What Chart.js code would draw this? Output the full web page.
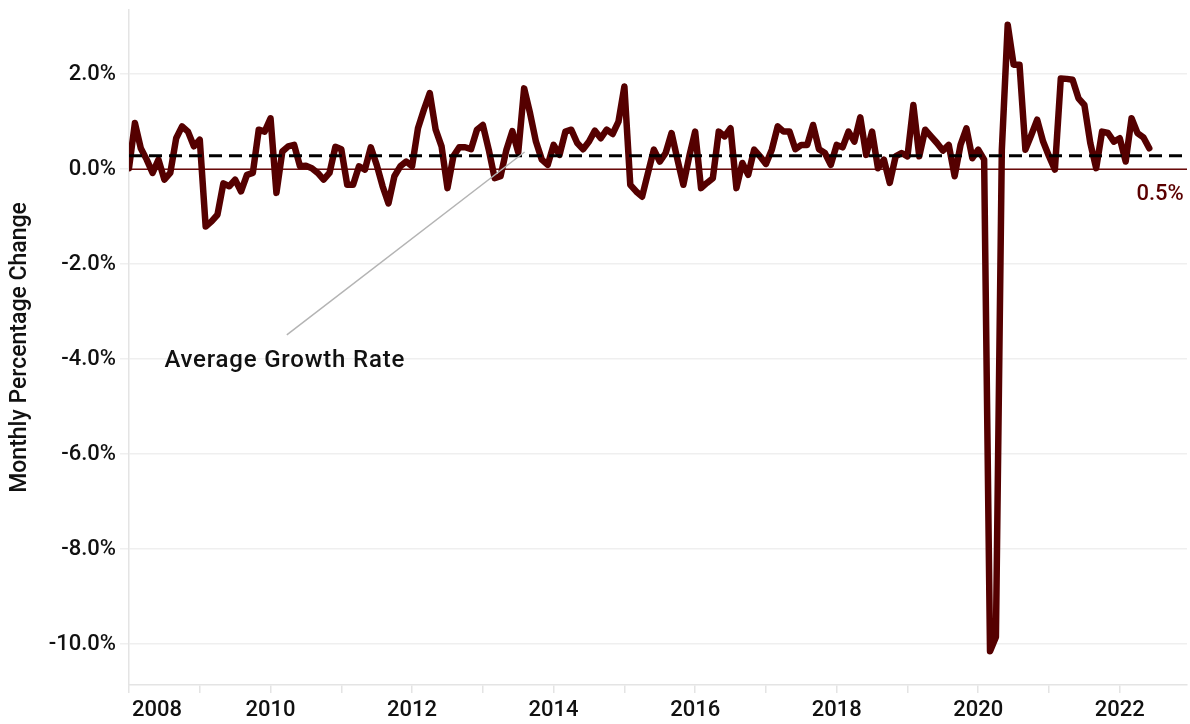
<!DOCTYPE html>
<html>
<head>
<meta charset="utf-8">
<script src="https://cdn.jsdelivr.net/npm/chart.js@4.4.1/dist/chart.umd.min.js"></script>
<style>
  html, body { margin: 0; padding: 0; background: #ffffff; }
  #c { display: block; }
</style>
</head>
<body>
<canvas id="c" width="1190" height="724"></canvas>
<script>
// ---- Data (monthly % change, starting January 2008) ----
const startYear = 2008;
const monthlyChange = [
  0.02, 0.97, 0.44, 0.20, -0.08, 0.20, -0.22, -0.08, 0.65, 0.90, 0.79, 0.48,
  0.62, -1.21, -1.10, -0.96, -0.30, -0.36, -0.22, -0.47, -0.12, -0.08, 0.83, 0.79,
  1.07, -0.50, 0.37, 0.48, 0.51, 0.06, 0.07, 0.02, -0.08, -0.22, -0.08, 0.47,
  0.42, -0.33, -0.33, 0.06, -0.01, 0.46, 0.09, -0.36, -0.72, -0.15, 0.06, 0.16,
  0.06, 0.86, 1.25, 1.60, 0.83, 0.48, -0.40, 0.27, 0.46, 0.46, 0.42, 0.83,
  0.93, 0.41, -0.19, -0.15, 0.41, 0.80, 0.35, 1.70, 1.18, 0.58, 0.20, 0.09,
  0.51, 0.30, 0.79, 0.83, 0.55, 0.42, 0.58, 0.81, 0.65, 0.83, 0.74, 1.00,
  1.74, -0.33, -0.47, -0.58, -0.08, 0.41, 0.16, 0.34, 0.76, 0.20, -0.33, 0.27,
  0.79, -0.40, -0.29, -0.19, 0.79, 0.69, 0.86, -0.40, 0.13, -0.12, 0.41, 0.27,
  0.11, 0.41, 0.90, 0.79, 0.79, 0.42, 0.51, 0.51, 0.93, 0.42, 0.34, 0.09,
  0.51, 0.46, 0.79, 0.58, 1.09, 0.30, 0.79, 0.02, 0.20, -0.29, 0.27, 0.34,
  0.27, 1.35, 0.27, 0.83, 0.69, 0.55, 0.39, 0.51, -0.15, 0.51, 0.86, 0.23,
  0.41, 0.20, -10.15, -9.85, 0.40, 3.04, 2.20, 2.20, 0.41, 0.72, 1.04, 0.58,
  0.27, -0.01, 1.91, 1.90, 1.88, 1.49, 1.35, 0.55, 0.02, 0.79, 0.76, 0.58,
  0.65, 0.16, 1.07, 0.76, 0.67, 0.44
];
const averageGrowthRate = 0.28;
const xTickYears = [2008, 2009, 2010, 2011, 2012, 2013, 2014, 2015, 2016, 2017, 2018, 2019, 2020, 2021, 2022];
const xTickLabels = [2008, 2010, 2012, 2014, 2016, 2018, 2020, 2022];
const yTickValues = [-10, -8, -6, -4, -2, 0, 2];
const xMin = 2008, xMax = 2022.95;
const yMin = -10.86, yMax = 3.35;

// annotation anchors (data coordinates)
const annotationText = 'Average Growth Rate';
const annotationTextPos = { x: 2008.5, y: -4.16 };
const annotationLine = [{ x: 2010.23, y: -3.49 }, { x: 2013.59, y: 0.36 }];
const endLabelText = '0.5%';
const endLabelPos = { x: 2022.905, y: -0.66 };

const FONT = 'Roboto, "DejaVu Sans", sans-serif';

const seriesPoints = monthlyChange.map((v, i) => ({ x: startYear + i / 12, y: v }));

const labelsPlugin = {
  id: 'labelsPlugin',
  afterDraw(chart) {
    const ctx = chart.ctx;
    const xs = chart.scales.x, ys = chart.scales.y;
    ctx.save();
    // annotation line
    ctx.strokeStyle = '#b4b4b4';
    ctx.lineWidth = 1.5;
    ctx.beginPath();
    ctx.moveTo(xs.getPixelForValue(annotationLine[0].x), ys.getPixelForValue(annotationLine[0].y));
    ctx.lineTo(xs.getPixelForValue(annotationLine[1].x), ys.getPixelForValue(annotationLine[1].y));
    ctx.stroke();
    // annotation text
    ctx.font = '500 24px ' + FONT;
    ctx.fillStyle = '#111111';
    ctx.textAlign = 'left';
    ctx.textBaseline = 'alphabetic';
    try { ctx.letterSpacing = '0.8px'; } catch (e) {}
    ctx.fillText(annotationText, xs.getPixelForValue(annotationTextPos.x), ys.getPixelForValue(annotationTextPos.y));
    try { ctx.letterSpacing = '0px'; } catch (e) {}
    // end label
    ctx.font = '500 22px ' + FONT;
    ctx.fillStyle = '#5a0000';
    ctx.textAlign = 'right';
    ctx.fillText(endLabelText, xs.getPixelForValue(endLabelPos.x), ys.getPixelForValue(endLabelPos.y));
    // x tick labels
    ctx.fillStyle = '#111111';
    xTickLabels.forEach((yr, i) => {
      const px = xs.getPixelForValue(yr);
      if (i === 0) { ctx.textAlign = 'left'; ctx.fillText(String(yr), px + 3, xs.top + 31); }
      else { ctx.textAlign = 'center'; ctx.fillText(String(yr), px, xs.top + 31); }
    });
    ctx.restore();
  }
};

new Chart(document.getElementById('c'), {
  type: 'line',
  data: {
    datasets: [
      {
        data: [{ x: xMin, y: averageGrowthRate }, { x: xMax, y: averageGrowthRate }],
        borderColor: '#000000', borderWidth: 3, borderDash: [13, 7],
        pointRadius: 0, order: 0
      },
      {
        data: seriesPoints,
        borderColor: '#550000', borderWidth: 6.5,
        borderJoinStyle: 'round', borderCapStyle: 'round',
        pointRadius: 0, tension: 0, order: 1
      },
      {
        data: [{ x: xMin, y: 0 }, { x: xMax, y: 0 }],
        borderColor: '#6a0a0a', borderWidth: 1.5,
        pointRadius: 0, order: 2
      }
    ]
  },
  options: {
    responsive: false,
    animation: false,
    layout: { padding: { top: 10, right: 3, left: 0, bottom: 0 } },
    plugins: { legend: { display: false }, tooltip: { enabled: false } },
    scales: {
      x: {
        type: 'linear', min: xMin, max: xMax,
        afterBuildTicks: (s) => { s.ticks = xTickYears.map(v => ({ value: v })); },
        ticks: { callback: () => '', font: { size: 22, family: FONT } },
        grid: { drawOnChartArea: false, tickLength: 8, color: '#e4e4e4', lineWidth: 1.5 },
        border: { color: '#e4e4e4', width: 1.5 },
        afterFit: (s) => { s.height = 39; s.paddingLeft = 0; s.paddingRight = 0; }
      },
      y: {
        type: 'linear', min: yMin, max: yMax,
        afterBuildTicks: (s) => { s.ticks = yTickValues.map(v => ({ value: v })); },
        ticks: {
          callback: (v) => v.toFixed(1) + '%',
          font: { size: 22, family: FONT, weight: '500' },
          color: '#111111', padding: 4
        },
        grid: { color: '#efefef', lineWidth: 1.5, tickLength: 9 },
        border: { color: '#e4e4e4', width: 1.5 },
        title: {
          display: true, text: 'Monthly Percentage Change',
          font: { size: 23, family: FONT, weight: '500' },
          color: '#111111', padding: { top: 6, bottom: 0 }
        },
        afterFit: (s) => { s.width = 129; s.paddingTop = 0; s.paddingBottom = 0; }
      }
    }
  },
  plugins: [labelsPlugin]
});
</script>
</body>
</html>
